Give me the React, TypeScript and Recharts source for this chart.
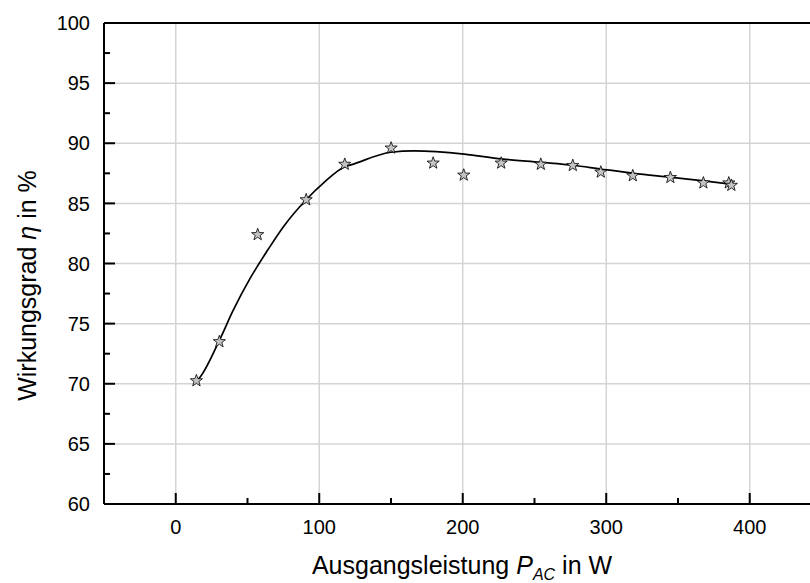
import {
  ComposedChart,
  Line,
  Scatter,
  XAxis,
  YAxis,
  CartesianGrid,
  ReferenceLine,
  Label,
} from "recharts";

// Messpunkte: Ausgangsleistung in W, Wirkungsgrad in %
const MEAS_P = [14.4, 30.4, 57.1, 90.9, 117.8, 150.1, 179.4, 200.7, 226.8, 254.4, 276.7, 296.2, 318.5, 344.7, 367.7, 385.4, 387.2];
const MEAS_ETA = [70.25, 73.5, 82.4, 85.3, 88.25, 89.6, 88.35, 87.35, 88.35, 88.25, 88.15, 87.6, 87.3, 87.15, 86.7, 86.7, 86.5];

// Ausgleichskurve
const FIT_P = [14.4, 17.3, 30.4, 40, 52, 64, 75.3, 90.9, 103, 117.8, 122, 150, 166, 201, 227, 254, 277, 296, 319, 345, 368, 387];
const FIT_ETA = [70.2, 70.6, 73.6, 76.1, 78.8, 81.1, 83.1, 85.3, 86.7, 88.05, 88.2, 89.25, 89.36, 89.1, 88.7, 88.42, 88.17, 87.86, 87.5, 87.17, 86.87, 86.6];

const X_TICKS = [0, 50, 100, 150, 200, 250, 300, 350, 400];
const X_LABELS = [0, 100, 200, 300, 400];
const Y_TICKS = [60, 62.5, 65, 67.5, 70, 72.5, 75, 77.5, 80, 82.5, 85, 87.5, 90, 92.5, 95, 97.5, 100];
const Y_LABELS = [60, 65, 70, 75, 80, 85, 90, 95, 100];
const Y_GRID = [65, 70, 75, 80, 85, 90, 95];

const measured = MEAS_P.map((p, i) => ({ p, eta: MEAS_ETA[i] }));
const fit = FIT_P.map((p, i) => ({ p, eta: FIT_ETA[i] }));

const FONT = "'Liberation Sans', Arial, sans-serif";
const X_GAP = 30;
const Y_GAP = 14;

function XTick(props: any) {
  const { x, y, payload } = props;
  const axisY = y - X_GAP;
  const major = X_LABELS.includes(payload.value);
  return (
    <g>
      <line x1={x} x2={x} y1={axisY} y2={axisY - (major ? 11 : 6)} stroke="#000" strokeWidth={2} />
      {major && (
        <text x={x} y={y} textAnchor="middle" fontSize={20} fill="#000" fontFamily={FONT}>
          {payload.value}
        </text>
      )}
    </g>
  );
}

function YTick(props: any) {
  const { x, y, payload } = props;
  const axisX = x + Y_GAP;
  const major = Y_LABELS.includes(payload.value);
  return (
    <g>
      <line x1={axisX} x2={axisX + (major ? 11 : 6)} y1={y} y2={y} stroke="#000" strokeWidth={2} />
      {major && (
        <text x={x} y={y} dy="0.36em" textAnchor="end" fontSize={20} fill="#000" fontFamily={FONT}>
          {payload.value}
        </text>
      )}
    </g>
  );
}

function Star(props: any) {
  const { cx, cy } = props;
  const R = 6.4;
  const r = 2.6;
  const pts: string[] = [];
  for (let k = 0; k < 10; k++) {
    const rad = k % 2 === 0 ? R : r;
    const a = -Math.PI / 2 + (k * Math.PI) / 5;
    pts.push(`${cx + rad * Math.cos(a)},${cy + rad * Math.sin(a)}`);
  }
  return <polygon points={pts.join(" ")} fill="#c4c4c4" stroke="#000" strokeWidth={0.8} />;
}

function XTitle({ viewBox }: any) {
  const { x, y, width } = viewBox;
  return (
    <text x={x + width / 2 + 5} y={y + 70} textAnchor="middle" fontSize={25} fill="#000" fontFamily={FONT}>
      <tspan>Ausgangsleistung </tspan>
      <tspan fontStyle="italic">P</tspan>
      <tspan fontStyle="italic" fontSize={16} dy={6}>AC</tspan>
      <tspan dy={-6}> in W</tspan>
    </text>
  );
}

function YTitle({ viewBox }: any) {
  const { y, height } = viewBox;
  const cx = 27;
  const cy = y + height / 2 + 22;
  return (
    <text
      x={cx}
      y={cy}
      transform={`rotate(-90 ${cx} ${cy})`}
      textAnchor="middle"
      dominantBaseline="central"
      fontSize={25}
      fill="#000"
      fontFamily={FONT}
    >
      <tspan>Wirkungsgrad </tspan>
      <tspan fontStyle="italic">η</tspan>
      <tspan> in %</tspan>
    </text>
  );
}

export default function App() {
  return (
    <div style={{ position: "absolute", left: 0, top: 0, background: "#fff" }}>
      <ComposedChart
        width={810}
        height={583}
        margin={{ top: 23, right: 0, left: 0, bottom: 0 }}
        style={{ fontFamily: FONT }}
      >
        <CartesianGrid
          stroke="#d4d4d4"
          strokeWidth={1.5}
          verticalValues={X_LABELS}
          horizontalValues={Y_GRID}
        />
        <XAxis
          type="number"
          dataKey="p"
          domain={[-50, 442]}
          allowDataOverflow
          ticks={X_TICKS}
          interval={0}
          tickSize={0}
          tickMargin={X_GAP}
          tickLine={false}
          tick={<XTick />}
          axisLine={{ stroke: "#000", strokeWidth: 2 }}
          height={79}
        >
          <Label content={<XTitle />} />
        </XAxis>
        <YAxis
          type="number"
          dataKey="eta"
          domain={[60, 100]}
          allowDataOverflow
          ticks={Y_TICKS}
          interval={0}
          tickSize={0}
          tickMargin={Y_GAP}
          tickLine={false}
          tick={<YTick />}
          axisLine={{ stroke: "#000", strokeWidth: 2 }}
          width={104}
        >
          <Label content={<YTitle />} />
        </YAxis>
        <ReferenceLine y={100} stroke="#000" strokeWidth={2} />
        <Line
          data={fit}
          dataKey="eta"
          type="monotone"
          stroke="#000"
          strokeWidth={1.7}
          dot={false}
          activeDot={false}
          isAnimationActive={false}
        />
        <Scatter data={measured} dataKey="eta" shape={<Star />} isAnimationActive={false} />
      </ComposedChart>
    </div>
  );
}
